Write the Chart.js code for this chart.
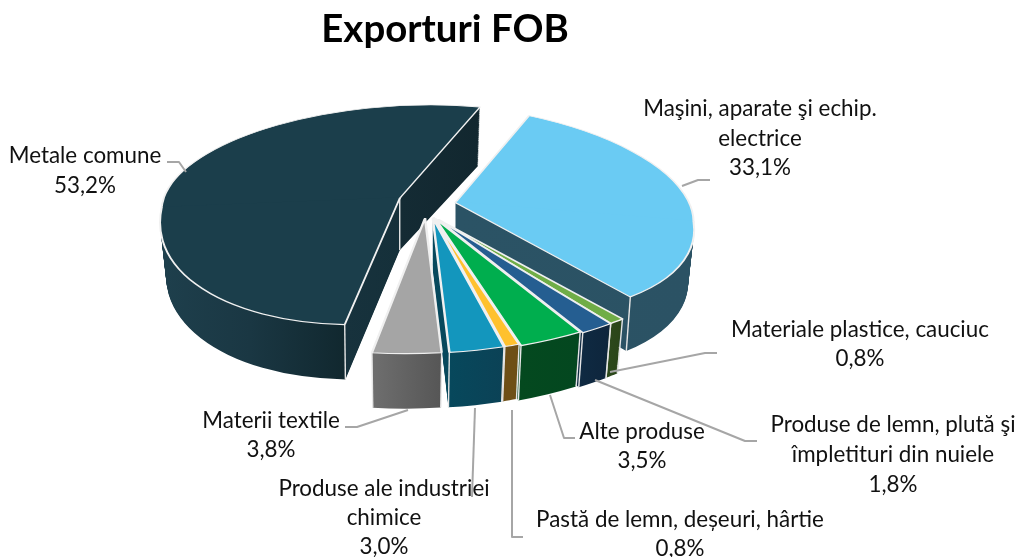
<!DOCTYPE html>
<html><head><meta charset="utf-8">
<style>html,body{margin:0;padding:0;background:#fff}canvas{display:block}</style>
<script src="https://cdn.jsdelivr.net/npm/chart.js@4"></script>
</head><body><canvas id="c" width="1020" height="557"></canvas>
<script>
// DATA
const categories = ["Maşini, aparate şi echip. electrice","Materiale plastice, cauciuc","Produse de lemn, plută şi împletituri din nuiele","Alte produse","Pastă de lemn, deșeuri, hârtie","Produse ale industriei chimice","Materii textile","Metale comune"];
const values = [33.1,0.8,1.8,3.5,0.8,3.0,3.8,53.2];
const valueLabels = ["33,1%","0,8%","1,8%","3,5%","0,8%","3,0%","3,8%","53,2%"];
const chartTitle = "Exporturi FOB";

// STYLE
const topColors = ["#6ACBF3","#70AD47","#255E91","#00AE4E","#FFC12E","#1396BD","#A5A5A5","#1B3E4B"];
const wallStops = [
  [[455,"#2B5365"],[693,"#2B5264"]],
  [[605,"#2D4A1C"],[620,"#2A4519"]],
  [[580,"#0F2A42"],[610,"#0E253C"]],
  [[520,"#04491F"],[580,"#03471F"]],
  [[500,"#6E4F16"],[525,"#6E4F16"]],
  [[450,"#07485C"],[502,"#0B4256"]],
  [[374,"#6E6E6E"],[441,"#565656"]],
  [[165,"#1E3F4C"],[250,"#1A3743"],[344,"#11282F"],[346,"#17323D"],[399,"#15303A"],[401,"#142B34"],[480,"#12272F"]]
];
const explode = [25,14,12,10,8,8,8,32];
const nudge = [[0,-2],[-2,-1],[0,0],[0,0],[0,0],[0,0],[-6,0],[0,-5]];
const fanBack = {sx:1,shear:0,ky:0.4,tilt:0};
const frontFan = {sx:1.23,shear:-0.085,ky:0.57,tilt:0};
const backViews = [{sx:1,shear:0,ky:0.41,tilt:0.08},fanBack,fanBack,fanBack,fanBack,fanBack,fanBack,{sx:1,shear:-0.03,ky:0.39,tilt:-0.04}];
const frontViews = [{sx:1,shear:0.075,ky:0.466,tilt:0.08},frontFan,frontFan,frontFan,frontFan,frontFan,frontFan,{sx:1,shear:-0.119,ky:0.53,tilt:-0.04}];
const drawOrder = [0,7,1,2,3,4,5,6];
const wallEdges = [["end"],["start","end"],["start","end"],["start","end"],["start","end"],["start","end"],["start","end"],["apex","start"]];
const centre = {x:431,y:210};
const depth = 52;

// ANNOTATION LAYOUT
const labelFont = '22.4px Lato';
const labelBoxes = [
 {x:760,ys:[109,139,168],lines:["Maşini, aparate şi echip.","electrice"],leader:[[710,180],[698,180],[682,186]]},
 {x:860,ys:[330,359],lines:["Materiale plastice, cauciuc"],leader:[[717,353],[705,353],[610,372]]},
 {x:893,ys:[425,455,485],lines:["Produse de lemn, plută şi","împletituri din nuiele"],leader:[[757,441],[745,441],[595,380]]},
 {x:642,ys:[432,461],lines:["Alte produse"],leader:[[575,438],[564,438],[550,395]]},
 {x:680,ys:[520,549],lines:["Pastă de lemn, deșeuri, hârtie"],leader:[[523,537],[512,537],[512,410]]},
 {x:384,ys:[489,518,547],lines:["Produse ale industriei","chimice"],leader:[[472,497],[475,408]]},
 {x:271,ys:[421,450],lines:["Materii textile"],leader:[[345,427],[357,427],[408,410]]},
 {x:85,ys:[156,186],lines:["Metale comune"],leader:[[167,162],[179,162],[186,172]]}
];

function apexOf(arc,i){
  const mid=(arc.startAngle+arc.endAngle)/2;
  return {x:centre.x+Math.cos(mid)*explode[i]+nudge[i][0], y:centre.y+Math.sin(mid)*explode[i]+nudge[i][1]};
}
function viewAt(i,front,t){
  const v=front?frontViews[i]:backViews[i];
  return {sx:v.sx*(1-0.025*t), shear:v.shear, tilt:v.tilt, ky:v.ky+(front?0.0126:-0.03)*t};
}
function wallGradient(ctx,arc,A,v,stops){
  const x0=stops[0][0],x1=stops[stops.length-1][0],span=x1-x0;
  const a=span/(v.sx+v.shear*v.shear/v.sx);
  const u0=arc.x+(x0-A.x)/v.sx;
  const g=ctx.createLinearGradient(u0,arc.y,u0+a,arc.y+a*v.shear/v.sx);
  stops.forEach(s=>g.addColorStop((s[0]-x0)/span,s[1]));
  return g;
}
function drawPiece(ctx,arc,i,t,stops,W,H){
  const saved=arc.options;
  const A=apexOf(arc,i), ay=A.y+t*depth;
  [false,true].forEach(front=>{
    const v=viewAt(i,front,t);
    if(stops){
      const g=wallGradient(ctx,arc,A,v,stops);
      arc.options={backgroundColor:g,borderColor:g,borderWidth:0,borderRadius:0,spacing:0,offset:0,borderAlign:'center',circular:true};
    }
    const edge=front?H+200:-200, lap=front?-1:1;
    ctx.save();
    ctx.beginPath();
    ctx.moveTo(-10,ay+lap+v.tilt*(-10-A.x));
    ctx.lineTo(W+10,ay+lap+v.tilt*(W+10-A.x));
    ctx.lineTo(W+10,edge);
    ctx.lineTo(-10,edge);
    ctx.closePath();
    ctx.clip();
    ctx.transform(v.sx,v.tilt,v.shear,v.ky,A.x-v.sx*arc.x-v.shear*arc.y,ay-v.tilt*arc.x-v.ky*arc.y);
    arc.draw(ctx);
    ctx.restore();
  });
  arc.options=saved;
}
function project(arc,i,angle,t){
  const A=apexOf(arc,i),r=arc.outerRadius,u=Math.cos(angle)*r,w=Math.sin(angle)*r;
  const v=viewAt(i,w>0,t);
  return {x:A.x+v.sx*u+v.shear*w,y:A.y+t*depth+v.ky*w+v.tilt*u};
}
const pie3d={
  id:'pie3d',
  beforeDatasetDraw(chart){
    const ctx=chart.ctx,arcs=chart.getDatasetMeta(0).data,W=chart.width,H=chart.height;
    drawOrder.forEach(i=>{
      const arc=arcs[i],A=apexOf(arc,i);
      for(let k=depth;k>=1;k--) drawPiece(ctx,arc,i,k/depth,wallStops[i],W,H);
      ctx.save();ctx.strokeStyle='#E6E6E6';ctx.lineWidth=1.4;
      wallEdges[i].forEach(e=>{
        let p,q;
        if(e==='apex'){p={x:A.x,y:A.y};q={x:A.x,y:A.y+depth};}
        else{const ang=e==='start'?arc.startAngle:arc.endAngle;p=project(arc,i,ang,0);q=project(arc,i,ang,1);}
        ctx.beginPath();ctx.moveTo(p.x,p.y);ctx.lineTo(q.x,q.y);ctx.stroke();
      });
      ctx.restore();
      drawPiece(ctx,arc,i,0,null,W,H);
    });
    return false;
  },
  afterDraw(chart){
    const ctx=chart.ctx;
    ctx.save();
    ctx.strokeStyle='#A6A6A6';ctx.lineWidth=2;ctx.lineJoin='round';
    labelBoxes.forEach(b=>{
      ctx.beginPath();
      b.leader.forEach((p,j)=>j?ctx.lineTo(p[0],p[1]):ctx.moveTo(p[0],p[1]));
      ctx.stroke();
    });
    ctx.fillStyle='#111';ctx.font=labelFont;ctx.textAlign='center';ctx.textBaseline='middle';
    labelBoxes.forEach((b,i)=>{
      const rows=b.lines.concat(valueLabels[i]);
      rows.forEach((r,j)=>ctx.fillText(r,b.x,b.ys[j]));
    });
    ctx.restore();
  }
};
new Chart(document.getElementById('c'),{
  type:'pie',
  data:{labels:categories,datasets:[{data:values,backgroundColor:topColors,borderColor:'#F0F0F0',borderWidth:2,radius:238,offset:0}]},
  options:{
    responsive:false,animation:false,rotation:18,
    layout:{padding:{right:130}},
    plugins:{
      legend:{display:false},tooltip:{enabled:false},
      title:{display:true,text:chartTitle,color:'#000',font:{family:'Lato',size:38.4,weight:'bold'},padding:{top:7,bottom:10}}
    }
  },
  plugins:[pie3d]
});
</script></body></html>
